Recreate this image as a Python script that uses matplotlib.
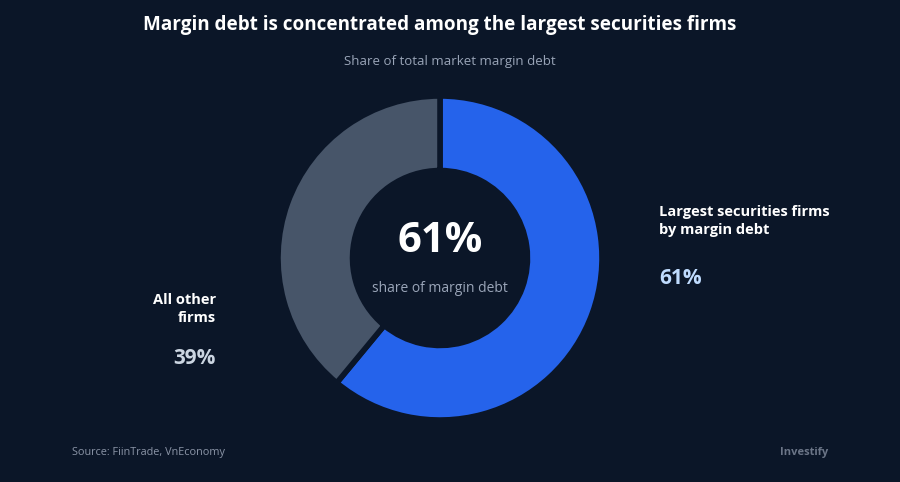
import matplotlib.pyplot as plt

plt.rcParams["font.family"] = ["Open Sans", "DejaVu Sans"]

# data
labels = ["Largest securities firms\nby margin debt", "All other\nfirms"]
shares = [61, 39]
colors = ["#2563eb", "#475569"]

bg = "#0b1628"

fig = plt.figure(figsize=(9, 4.82), dpi=100)
fig.patch.set_facecolor(bg)

# donut: center (440, 258) px, outer radius ~161 px
cx, cy, r = 440 / 900, 1 - 258 / 482, 162
ax = fig.add_axes([cx - r / 900, cy - r / 482, 2 * r / 900, 2 * r / 482])
ax.set_facecolor(bg)
ax.pie(shares, colors=colors, startangle=90, counterclock=False,
       radius=1.0, wedgeprops=dict(width=0.46, edgecolor=bg, linewidth=4))
ax.set_xlim(-1, 1)
ax.set_ylim(-1, 1)
ax.set_aspect("equal")
ax.axis("off")

def fy(py):
    return 1 - py / 482

fig.text(440 / 900, fy(25), "Margin debt is concentrated among the largest securities firms",
         ha="center", va="center", fontsize=13.6, fontweight="bold", color="white")
fig.text(450 / 900, fy(62), "Share of total market margin debt",
         ha="center", va="center", fontsize=9.5, color="#9aa5b8")

fig.text(440 / 900, fy(242), f"{shares[0]}%", ha="center", va="center",
         fontsize=30, fontweight="bold", color="white")
fig.text(440 / 900, fy(289), "share of margin debt", ha="center", va="center",
         fontsize=10, color="#9aa5b8")

fig.text(659 / 900, fy(221), labels[0], ha="left", va="center", fontsize=10.5,
         fontweight="bold", color="white", linespacing=1.35)
fig.text(659 / 900, fy(279), f"{shares[0]}%", ha="left", va="center", fontsize=15,
         fontweight="bold", color="#bfdbfe")

fig.text(216 / 900, fy(309), labels[1], ha="right", va="center", fontsize=10.5,
         fontweight="bold", color="white", linespacing=1.35, multialignment="right")
fig.text(216 / 900, fy(359), f"{shares[1]}%", ha="right", va="center", fontsize=15,
         fontweight="bold", color="#cbd5e1")

fig.text(72 / 900, fy(452), "Source: FiinTrade, VnEconomy", ha="left", va="center",
         fontsize=7.8, color="#8b95a7")
fig.text(828 / 900, fy(452), "Investify", ha="right", va="center",
         fontsize=8, fontweight="bold", color="#6b7587")

fig.savefig("out.png", dpi=100, facecolor=bg)
